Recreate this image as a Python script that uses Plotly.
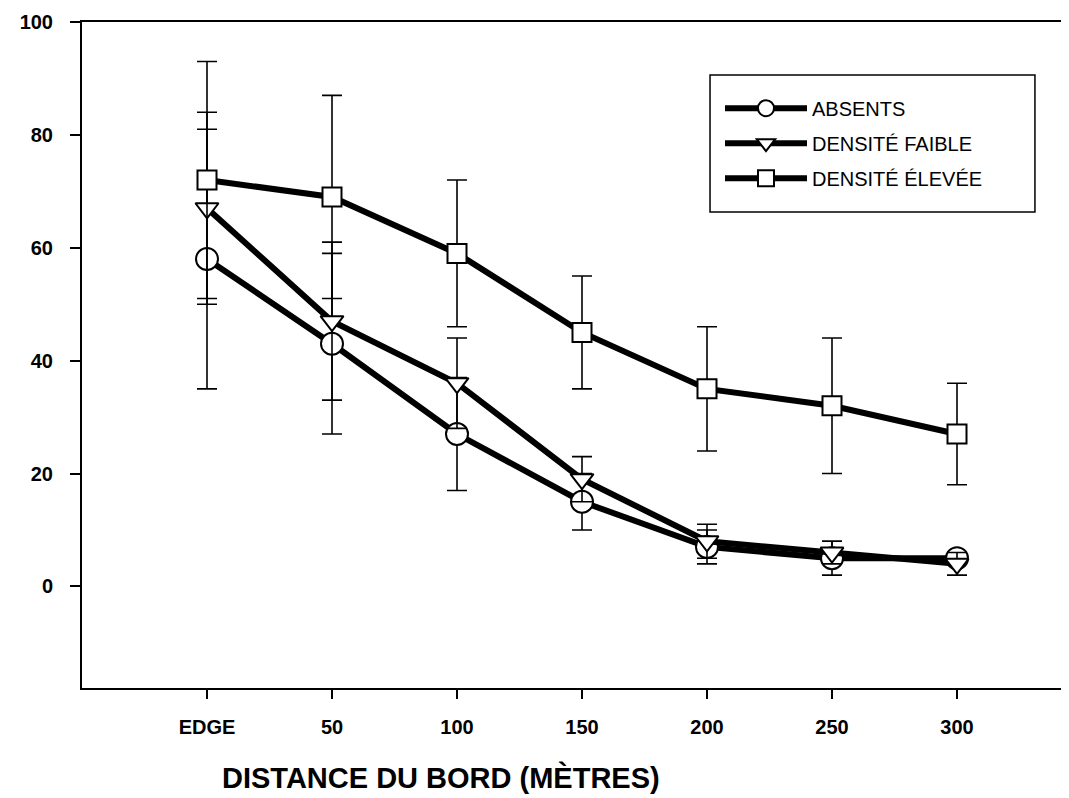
import plotly.graph_objects as go

categories = ["EDGE", "50", "100", "150", "200", "250", "300"]

absents = [58, 43, 27, 15, 7, 5, 5]
absents_err = [23, 16, 10, 5, 3, 3, 1]

faible = [67, 47, 36, 19, 8, 6, 4]
faible_err = [17, 14, 8, 4, 3, 2, 2]

elevee = [72, 69, 59, 45, 35, 32, 27]
elevee_err = [21, 18, 13, 10, 11, 12, 9]

y_ticks = [0, 20, 40, 60, 80, 100]

series = [
    ("ABSENTS", absents, absents_err, "circle", 22),
    ("DENSITÉ FAIBLE", faible, faible_err, "triangle-down", 20),
    ("DENSITÉ ÉLEVÉE", elevee, elevee_err, "square", 19),
]

FONT = "Liberation Sans, Arial, sans-serif"

fig = go.Figure()
for i, (name, vals, errs, sym, size) in enumerate(series):
    fig.add_trace(go.Scatter(
        x=categories, y=vals, name=name, mode="lines+markers",
        legendgroup=f"g{i}",
        line=dict(color="black", width=6),
        marker=dict(symbol=sym, size=size, color="white",
                    line=dict(color="black", width=2)),
        error_y=dict(type="data", array=errs, visible=True,
                     color="black", thickness=1.6, width=10),
    ))

fig.update_layout(
    width=1061, height=790,
    margin=dict(l=74, r=0, t=14, b=110),
    paper_bgcolor="white", plot_bgcolor="white",
    font=dict(family=FONT, color="black"),
    showlegend=True,
    legend=dict(
        x=0.6464, y=0.9155, xanchor="left", yanchor="top",
        borderwidth=0, bgcolor="rgba(0,0,0,0)",
        font=dict(family=FONT, size=20, color="black"),
        itemwidth=82, tracegroupgap=6,
        title=dict(text=" ", font=dict(size=8)),
    ),
    shapes=[dict(
        type="rect", xref="paper", yref="paper",
        x0=0.6363, x1=0.9655, y0=0.7147, y1=0.9204,
        line=dict(color="black", width=1.5), fillcolor="white",
        layer="below",
    )],
    xaxis=dict(
        type="category", range=[-1, 6.896],
        showgrid=False, zeroline=False,
        showline=True, linecolor="black", linewidth=2, mirror=True,
        ticks="outside", ticklen=9, tickwidth=1.5, tickcolor="black",
        tickfont=dict(family=FONT, size=20, color="black", weight="bold"),
        ticklabelstandoff=11,
    ),
    yaxis=dict(
        range=[-18, 100], tickvals=y_ticks,
        showgrid=False, zeroline=False,
        showline=True, linecolor="black", linewidth=2,
        ticks="outside", ticklen=10, tickwidth=1.5, tickcolor="black",
        tickfont=dict(family=FONT, size=20, color="black", weight="bold"),
        ticklabelstandoff=13,
    ),
    annotations=[dict(
        text="DISTANCE DU BORD (MÈTRES)", xref="paper", yref="paper",
        x=0.3637, y=-0.135, xanchor="center", yanchor="middle",
        showarrow=False,
        font=dict(family=FONT, size=29, color="black", weight="bold"),
    )],
)

fig.write_html("out.html")
